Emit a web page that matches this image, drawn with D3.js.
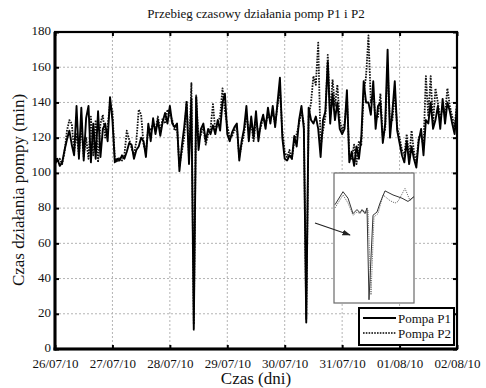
<!DOCTYPE html>
<html>
<head>
<meta charset="utf-8">
<script src="https://cdn.jsdelivr.net/npm/d3@7"></script>
<style>
  html, body { margin: 0; padding: 0; background: #fff; }
  svg { display: block; }
  text { font-family: "Liberation Serif", "Times New Roman", serif; fill: #111; }
</style>
</head>
<body>
<svg id="chart" width="486" height="388"></svg>
<script>
// Hourly working time of pumps P1 and P2 (minutes), from 26/07/10 00:00
const startDate = "2010-07-26";
const endDate = "2010-08-02";

const p1 = [
  105,108,104,106,113,119,124,116,110,138,108,137,107,131,138,106,128,108,135,109,125,128,118,143,
  130,106,108,107,110,108,112,117,116,108,113,115,120,118,109,128,118,131,122,130,121,129,134,128,
  138,128,126,128,101,115,126,140,105,142,11,143,113,125,128,118,125,122,127,122,130,124,140,145,
  122,118,123,126,128,107,118,125,138,118,132,120,135,118,128,133,125,137,128,138,126,140,154,120,
  108,107,110,108,121,115,130,138,125,15,137,130,128,132,125,109,130,135,163,128,145,130,140,125,
  122,125,147,106,112,104,115,108,120,152,140,140,133,152,125,138,140,117,128,170,120,135,152,124,
  117,110,106,118,105,115,108,103,118,125,110,130,128,140,125,130,138,125,142,128,140,135,128,122,
  138
];

const p2 = [
  110,106,108,105,112,124,130,128,112,122,110,126,109,120,108,132,110,130,106,128,133,120,126,140,
  135,108,106,109,107,110,124,119,114,110,118,136,133,116,112,126,124,128,124,132,124,131,128,136,
  133,130,124,126,104,112,120,141,108,151,14,144,118,122,126,116,122,125,139,124,128,132,148,135,
  127,120,121,124,126,109,116,122,133,124,128,118,130,122,126,131,128,133,130,134,128,138,148,124,
  112,109,113,108,118,122,128,135,128,17,132,140,155,150,174,115,124,132,167,132,153,138,150,130,
  124,128,142,110,108,116,105,118,116,145,155,178,140,145,130,132,145,120,125,160,128,130,145,126,
  120,113,110,122,108,124,112,106,120,122,115,155,132,155,128,148,140,130,138,134,148,138,132,126,
  140
];

// Close-up of the second drop (minutes since the start of the window)
const detailT1 = [1, 9, 14, 19, 23, 26, 28, 31, 33, 35, 39, 43, 46, 51, 59, 68, 74, 80];
const detailP1 = [131, 147, 139, 120, 125, 121, 125, 120, 127, 14, 118, 122, 133, 148, 143, 139, 135, 141];
const detailT2 = [1, 9, 14, 19, 23, 26, 29, 32, 34, 37, 40, 44, 49, 56, 61, 64, 71, 76, 80];
const detailP2 = [127, 143, 133, 118, 122, 120, 124, 121, 124, 20, 116, 120, 143, 136, 133, 135, 151, 136, 141];

const yTicks = [0, 20, 40, 60, 80, 100, 120, 140, 160, 180];
const seriesNames = ["Pompa P1", "Pompa P2"];
const titleText = "Przebieg czasowy działania pomp P1 i P2";
const xTitle = "Czas (dni)";
const yTitle = "Czas działania pompy (min)";

const svg = d3.select("#chart");
const m = { left: 55, right: 457, top: 32, bottom: 349 };

const t0 = new Date(startDate + "T00:00:00Z");
const t1 = new Date(endDate + "T00:00:00Z");
const x = d3.scaleUtc().domain([t0, t1]).range([m.left, m.right]);
const y = d3.scaleLinear().domain([0, 180]).range([m.bottom, m.top]);
const hourDate = h => new Date(t0.getTime() + h * 3600e3);

const xTicks = d3.utcDay.range(t0, d3.utcDay.offset(t1, 1));
const fmt = d3.utcFormat("%d/%m/%y");

// Grid
const grid = svg.append("g");
grid.selectAll(".gx").data(xTicks.slice(1, -1)).join("line")
  .attr("x1", d => x(d)).attr("x2", d => x(d))
  .attr("y1", m.top).attr("y2", m.bottom)
  .attr("stroke", "#b4b4b4").attr("stroke-width", 1).attr("stroke-dasharray", "2,2");
grid.selectAll(".gy").data(yTicks.slice(1, -1)).join("line")
  .attr("x1", m.left).attr("x2", m.right)
  .attr("y1", d => y(d)).attr("y2", d => y(d))
  .attr("stroke", "#b4b4b4").attr("stroke-width", 1).attr("stroke-dasharray", "2,2");

// Series
const line = d3.line().x((d, i) => x(hourDate(i))).y(d => y(d));
svg.append("path").datum(p2).attr("d", line)
  .attr("fill", "none").attr("stroke", "#111").attr("stroke-width", 1.8)
  .attr("stroke-dasharray", "1.6,1.2").attr("stroke-linejoin", "round");
svg.append("path").datum(p1).attr("d", line)
  .attr("fill", "none").attr("stroke", "#000").attr("stroke-width", 1.9)
  .attr("stroke-linejoin", "round");

// Axes
const axB = svg.append("g").attr("transform", `translate(0,${m.bottom})`)
  .call(d3.axisBottom(x).tickValues(xTicks).tickFormat(fmt).tickSizeInner(-4).tickSizeOuter(0).tickPadding(7));
const axT = svg.append("g").attr("transform", `translate(0,${m.top})`)
  .call(d3.axisTop(x).tickValues(xTicks).tickFormat("").tickSizeInner(-4).tickSizeOuter(0));
const axL = svg.append("g").attr("transform", `translate(${m.left},0)`)
  .call(d3.axisLeft(y).tickValues(yTicks).tickSizeInner(-4).tickSizeOuter(0).tickPadding(4));
const axR = svg.append("g").attr("transform", `translate(${m.right},0)`)
  .call(d3.axisRight(y).tickValues(yTicks).tickFormat("").tickSizeInner(-4).tickSizeOuter(0));
[axB, axT, axL, axR].forEach(a => {
  a.select(".domain").remove();
  a.selectAll(".tick line").attr("stroke", "#000").attr("stroke-width", 2);
  a.selectAll("text").attr("font-size", 13).attr("fill", "#111")
    .style("font-family", '"Liberation Serif", serif');
});
axB.selectAll("text").attr("dy", "0.9em");
axL.selectAll("text").attr("dy", "0.22em");

// Frame
svg.append("rect").attr("x", m.left).attr("y", m.top)
  .attr("width", m.right - m.left).attr("height", m.bottom - m.top)
  .attr("fill", "none").attr("stroke", "#000").attr("stroke-width", 2.2);
svg.append("line").attr("x1", m.left).attr("x2", m.left).attr("y1", m.top).attr("y2", m.bottom + 1.5)
  .attr("stroke", "#000").attr("stroke-width", 3);
svg.append("line").attr("x1", m.left - 1.5).attr("x2", m.right).attr("y1", m.bottom).attr("y2", m.bottom)
  .attr("stroke", "#000").attr("stroke-width", 3);

// Detail panel
const box = { x0: 334, x1: 414, y0: 173, y1: 303 };
svg.append("rect").attr("x", box.x0).attr("y", box.y0)
  .attr("width", box.x1 - box.x0).attr("height", box.y1 - box.y0)
  .attr("fill", "#fff").attr("stroke", "#6a6a6a").attr("stroke-width", 1.2);
const dx = d3.scaleLinear().domain([0, 80]).range([box.x0, box.x1]);
const dy = d3.scaleLinear().domain([10, 170]).range([box.y1, box.y0]);
const dLine = (ts) => d3.line().x((d, i) => dx(ts[i])).y(d => dy(d));
svg.append("path").datum(detailP2).attr("d", dLine(detailT2))
  .attr("fill", "none").attr("stroke", "#666").attr("stroke-width", 0.9).attr("stroke-dasharray", "1.2,1");
svg.append("path").datum(detailP1).attr("d", dLine(detailT1))
  .attr("fill", "none").attr("stroke", "#333").attr("stroke-width", 1);

// Arrow
svg.append("defs").append("marker").attr("id", "ah")
  .attr("viewBox", "0 0 10 10").attr("refX", 9).attr("refY", 5)
  .attr("markerWidth", 7).attr("markerHeight", 7).attr("orient", "auto")
  .append("path").attr("d", "M0,1.5 L10,5 L0,8.5 Z").attr("fill", "#222");
svg.append("line").attr("x1", 315).attr("y1", 223).attr("x2", 350).attr("y2", 235)
  .attr("stroke", "#222").attr("stroke-width", 1.2).attr("marker-end", "url(#ah)");

// Legend
const lg = svg.append("g");
lg.append("rect").attr("x", 359).attr("y", 308).attr("width", 95).attr("height", 37)
  .attr("fill", "#fff").attr("stroke", "#000").attr("stroke-width", 2);
seriesNames.forEach((name, i) => {
  const ly = 318 + i * 15;
  lg.append("line").attr("x1", 363).attr("x2", 396).attr("y1", ly).attr("y2", ly)
    .attr("stroke", "#000").attr("stroke-width", i === 0 ? 1.8 : 1.5)
    .attr("stroke-dasharray", i === 0 ? null : "1.6,1.2");
  lg.append("text").attr("x", 398).attr("y", ly + 4.5).attr("font-size", 13).text(name);
});

// Titles
svg.append("text").attr("x", 256).attr("y", 18).attr("text-anchor", "middle")
  .attr("font-size", 13).text(titleText);
svg.append("text").attr("x", 256).attr("y", 384).attr("text-anchor", "middle")
  .attr("font-size", 17).text(xTitle);
svg.append("text").attr("transform", "translate(24,190) rotate(-90)")
  .attr("text-anchor", "middle").attr("font-size", 17).text(yTitle);
</script>
</body>
</html>
